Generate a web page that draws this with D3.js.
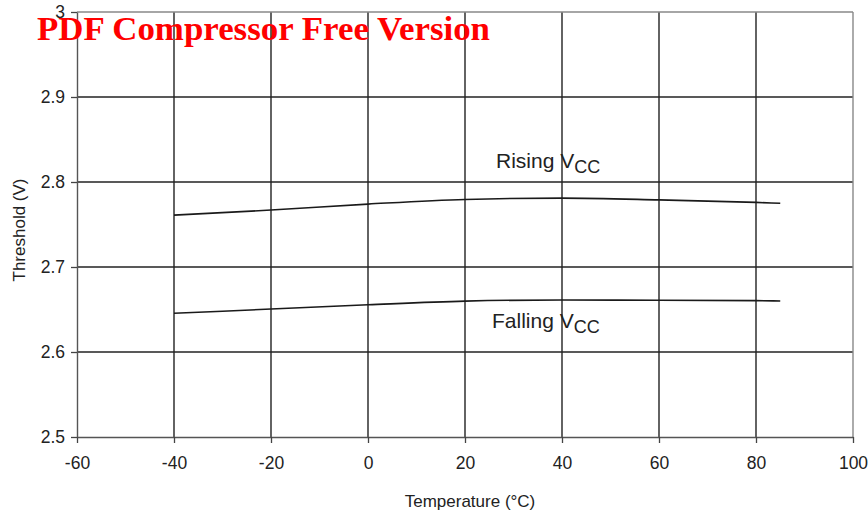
<!DOCTYPE html>
<html><head><meta charset="utf-8">
<script src="https://cdn.jsdelivr.net/npm/d3@7"></script>
<style>body{margin:0;background:#fff}svg{display:block}text{font-family:"Liberation Sans",Arial,sans-serif}</style>
</head><body><svg id="c" width="868" height="519"></svg>
<script>
const temps = [-40, -20, 0, 20, 40, 60, 80, 85];
const rising = [2.761, 2.767, 2.774, 2.7795, 2.781, 2.779, 2.776, 2.775];
const falling = [2.6455, 2.6505, 2.6555, 2.6598, 2.6612, 2.6608, 2.6604, 2.660];
const xTicks = [-60, -40, -20, 0, 20, 40, 60, 80, 100];
const yTicks = [2.5, 2.6, 2.7, 2.8, 2.9, 3];

const svg = d3.select("#c");
const x = d3.scaleLinear().domain([-60, 100]).range([77, 853]);
const y = d3.scaleLinear().domain([2.5, 3.0]).range([437, 12]);

// grid
svg.append("g").selectAll("line").data(xTicks.filter(d => d > -60 && d < 100)).join("line")
  .attr("x1", d => x(d)).attr("x2", d => x(d)).attr("y1", y(3)).attr("y2", y(2.5))
  .attr("stroke", "#222").attr("stroke-width", 1.4);
svg.append("g").selectAll("line").data(yTicks.filter(d => d > 2.5 && d < 3)).join("line")
  .attr("x1", x(-60)).attr("x2", x(100)).attr("y1", d => y(d)).attr("y2", d => y(d))
  .attr("stroke", "#222").attr("stroke-width", 1.4);
// frame top/right
svg.append("line").attr("x1", x(-60)).attr("x2", x(100)).attr("y1", y(3)).attr("y2", y(3)).attr("stroke", "#888").attr("stroke-width", 1.4);
svg.append("line").attr("x1", x(100)).attr("x2", x(100)).attr("y1", y(3)).attr("y2", y(2.5)).attr("stroke", "#888").attr("stroke-width", 1.4);

// axes
const xa = svg.append("g").attr("transform", `translate(0,${y(2.5)})`)
  .call(d3.axisBottom(x).tickValues(xTicks).tickSize(6).tickPadding(14).tickSizeOuter(0).tickFormat(d => String(d)));
const ya = svg.append("g").attr("transform", `translate(${x(-60)},0)`)
  .call(d3.axisLeft(y).tickValues(yTicks).tickSize(6).tickPadding(6).tickSizeOuter(0).tickFormat(d => d === 3 ? "3" : d3.format(".1f")(d)));
[xa, ya].forEach(a => {
  a.attr("font-size", null).attr("font-family", null);
  a.select(".domain").attr("stroke", "#555").attr("stroke-width", 1.4);
  a.selectAll(".tick line").attr("stroke", "#444").attr("stroke-width", 1.3);
  a.selectAll(".tick text").attr("fill", "#222").style("font-size", "17.5px").style("font-family", "'Liberation Sans',Arial,sans-serif");
});

// curves
const line = d3.line().x((d, i) => x(temps[i])).y(d => y(d)).curve(d3.curveMonotoneX);
[rising, falling].forEach(s => svg.append("path").attr("d", line(s)).attr("fill", "none").attr("stroke", "#1a1a1a").attr("stroke-width", 1.6));

// labels
function lbl(tx, ty, main) {
  const t = svg.append("text").attr("x", tx).attr("y", ty).attr("fill", "#222").style("font-size", "21px");
  t.append("tspan").text(main + " V");
  t.append("tspan").attr("dy", 5).style("font-size", "18px").text("CC");
}
lbl(496, 168, "Rising");
lbl(492, 328, "Falling");

svg.append("text").attr("x", 470).attr("y", 507).attr("text-anchor", "middle").attr("fill", "#222").style("font-size", "17px").text("Temperature (°C)");
svg.append("text").attr("transform", "translate(25,230) rotate(-90)").attr("text-anchor", "middle").attr("fill", "#222").style("font-size", "17px").text("Threshold (V)");

svg.append("text").attr("x", 37).attr("y", 40).attr("fill", "#f00").attr("textLength", 453).attr("lengthAdjust", "spacingAndGlyphs")
  .style("font-family", "'Liberation Serif','Times New Roman',serif").style("font-weight", "bold").style("font-size", "33px").text("PDF Compressor Free Version");
</script></body></html>
